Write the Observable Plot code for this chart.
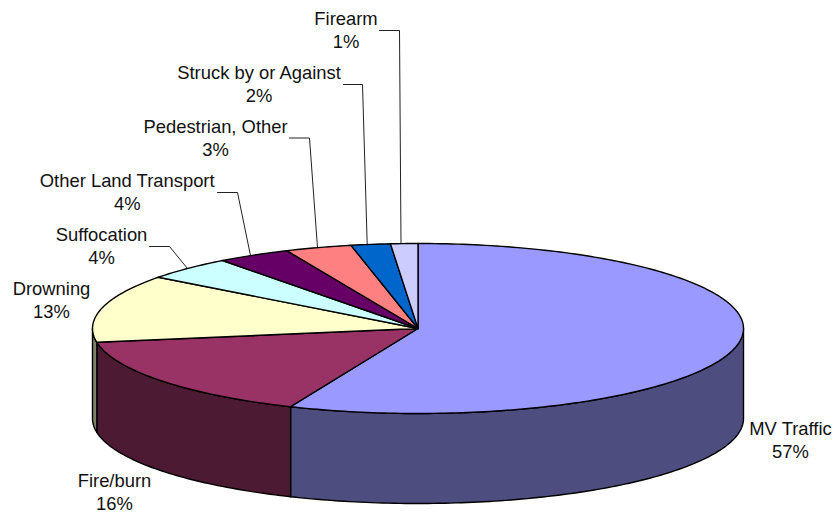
<!DOCTYPE html>
<html>
<head>
<meta charset="utf-8">
<style>html,body{margin:0;padding:0;background:#fff}svg{display:block}</style>
<script src="https://cdn.jsdelivr.net/npm/d3@7"></script>
<script src="https://cdn.jsdelivr.net/npm/@observablehq/plot@0.6"></script>
</head>
<body>
<div id="chart"></div>
<script>
// Data (clockwise from 12 o'clock)
const categories = ["MV Traffic","Fire/burn","Drowning","Suffocation","Other Land Transport","Pedestrian, Other","Struck by or Against","Firearm"];
const values = [56.4,16.0,12.9,4.45,3.65,3.3,1.95,1.35];
const percentLabels = ["57%","16%","13%","4%","4%","3%","2%","1%"];
const topColors = ["#9999FF","#993366","#FFFFCC","#CCFFFF","#660066","#FF8080","#0066CC","#CCCCFF"];
const sideColors = ["#4D4D80","#4D1A33","#808066","#668080","#330033","#804040","#003366","#666680"];

// Layout of the pie in page units
const cx = 417.5, cy = 328, rx = 325.5, ry = 85, depth = 90;
const labelX = [790,114,51,101,126.7,215,258.5,345.5];
const labelY = [428,480,288,234,180,126,72,18];
// Leaders: [start x, elbow x, elbow y, tip x on the pie rim], null where the label has none
const leaders = [null,null,null,[149,169,246,187],[217,237,192,250],[289,309,137.5,317],[343,362,84,366.7],[379,399,30,400.5]];

const total = d3.sum(values);
const ends = d3.cumsum(values).map(v => v / total * 360);
const starts = ends.map((e,i) => i ? ends[i-1] : 0);
const px = a => cx + rx * Math.sin(a * Math.PI / 180);
const py = a => cy - ry * Math.cos(a * Math.PI / 180);
const arc = (a0,a1) => { const n = Math.max(2, Math.ceil(Math.abs(a1-a0))); return d3.range(n+1).map(i => a0 + (a1-a0)*i/n); };

const topRows = [], sideRows = [];
categories.forEach((name,i) => {
  topRows.push({name, color: topColors[i], x: cx, y: cy});
  for (const a of arc(starts[i], ends[i])) topRows.push({name, color: topColors[i], x: px(a), y: py(a)});
  topRows.push({name, color: topColors[i], x: cx, y: cy});
  const a0 = Math.max(starts[i], 90), a1 = Math.min(ends[i], 270);
  if (a1 > a0) {
    const front = arc(a0, a1);
    for (const a of front) sideRows.push({name, color: sideColors[i], x: px(a), y: py(a)});
    for (const a of front.slice().reverse()) sideRows.push({name, color: sideColors[i], x: px(a), y: py(a) + depth});
    sideRows.push({name, color: sideColors[i], x: px(a0), y: py(a0)});
  }
});

const leaderRows = [];
categories.forEach((name,i) => {
  const l = leaders[i]; if (!l) return;
  const tipY = cy - ry * Math.sqrt(1 - ((l[3]-cx)/rx)**2);
  leaderRows.push({name, x: l[0], y: l[2]}, {name, x: l[1], y: l[2]}, {name, x: l[3], y: tipY});
});

const labels = categories.map((name,i) => ({text: name + "\n" + percentLabels[i], x: labelX[i], y: labelY[i]}));

const chart = Plot.plot({
  width: 836, height: 512,
  margin: 0,
  style: {background: "#fff", overflow: "visible"},
  x: {domain: [0,836], range: [0,836], axis: null},
  y: {domain: [0,512], range: [0,512], axis: null},
  color: {type: "identity"},
  marks: [
    Plot.line(leaderRows, {x:"x", y:"y", z:"name", stroke:"#222", strokeWidth:1, strokeLinejoin:"miter"}),
    Plot.line(sideRows, {x:"x", y:"y", z:"name", fill:"color", stroke:"#000", strokeWidth:1.4, strokeLinejoin:"round"}),
    Plot.line(topRows, {x:"x", y:"y", z:"name", fill:"color", stroke:"#000", strokeWidth:1.4, strokeLinejoin:"round"}),
    Plot.text(labels, {x:"x", y:"y", text:"text", lineAnchor:"top", dy:-9.7, lineHeight:1.25, fontSize:18.4, fontFamily:"Liberation Sans, Arial, sans-serif", fill:"#111", textAnchor:"middle"})
  ]
});
document.getElementById("chart").append(chart);
</script>
</body>
</html>
